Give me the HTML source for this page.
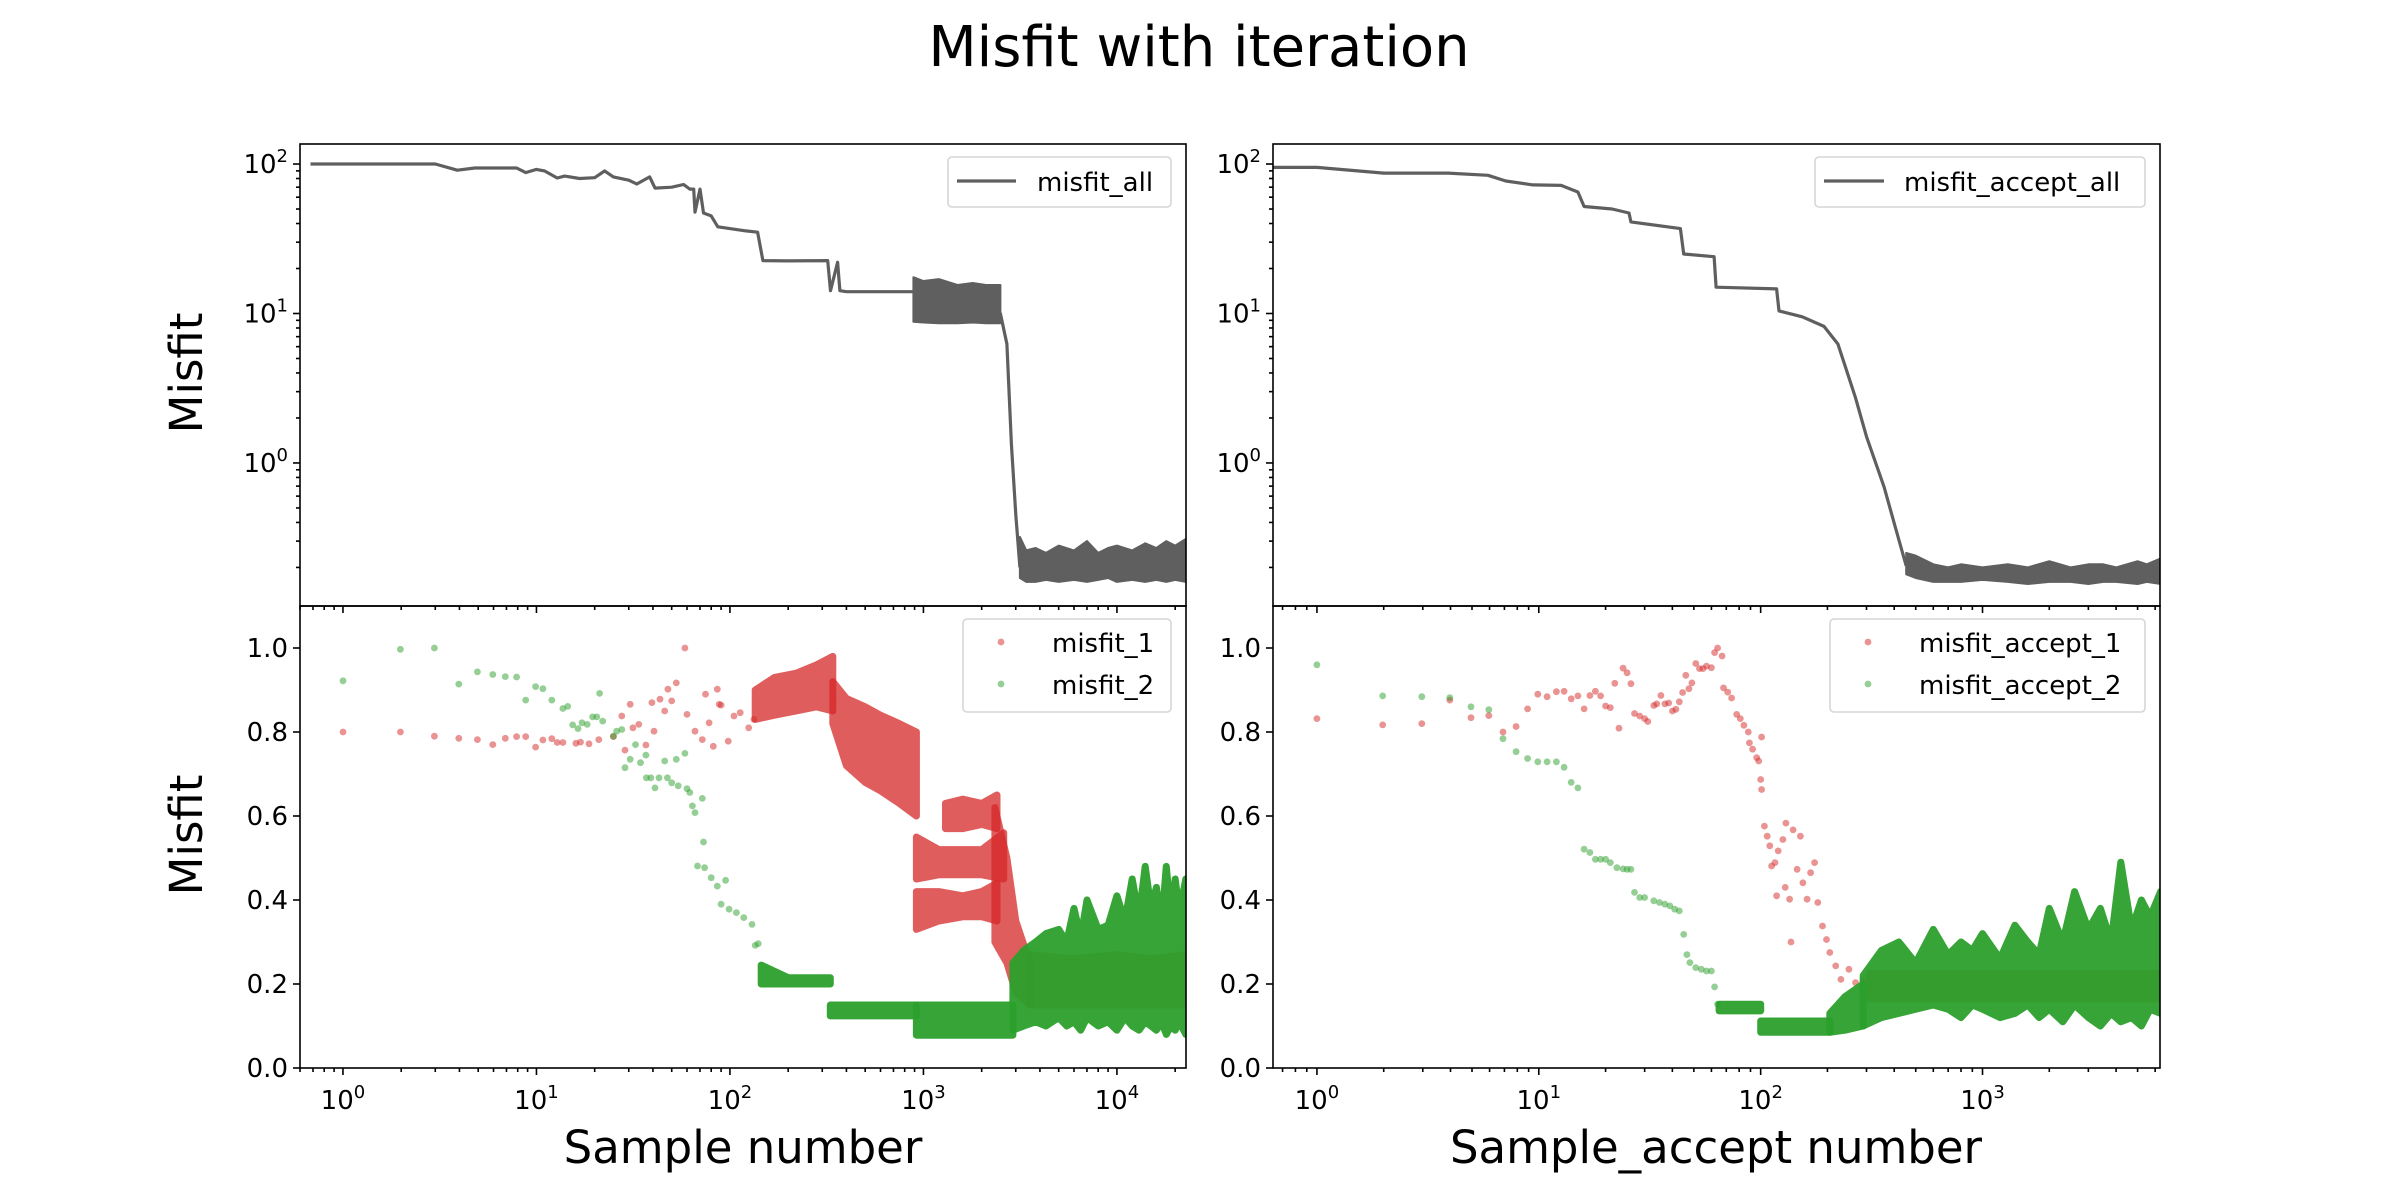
<!DOCTYPE html>
<html><head><meta charset="utf-8"><title>Misfit with iteration</title>
<style>
html,body{margin:0;padding:0;background:#fff;}
svg{display:block;font-family:"DejaVu Sans","Liberation Sans",sans-serif;}
</style></head>
<body>
<svg id="fig" width="2400" height="1200" viewBox="0 0 2400 1200" xmlns="http://www.w3.org/2000/svg">
<rect width="2400" height="1200" fill="#fff"/>
<text x="1199" y="66" text-anchor="middle" font-size="56" fill="#000">Misfit with iteration</text>
<text transform="translate(202,373) rotate(-90)" text-anchor="middle" font-size="45">Misfit</text>
<text transform="translate(202,835) rotate(-90)" text-anchor="middle" font-size="45">Misfit</text>
<text x="743" y="1163" text-anchor="middle" font-size="45">Sample number</text>
<text x="1716" y="1163" text-anchor="middle" font-size="45">Sample_accept number</text>
<g id="layer"></g>
</svg>
<script>
// ---------- data: top-left (misfit_all) ----------
const tlX = [0.68,1,2,3,3.9,4.8,7.9,8.8,10,11,12.8,14,16.7,20,22.5,25,30,33,38.5,41,50,57.6,62,65,66,70,73,80,86.6,121,139,148,200,320,331,360,370,400,888,2500,2700,2850,3000,3150];
const tlY = [100,100,100,100,91,94,94,87.6,92,90,80.6,83,80,81,90,82,78,73.5,82,69,70,73,68,68,47.6,68,47,45,38,35.7,35,22.6,22.5,22.6,14.2,22,14.2,14,14,10,6.25,1.34,0.45,0.2];
const tlBand1X = [888,1000,1200,1500,1800,2100,2500];
const tlBand1Lo = [8.8,8.7,8.6,8.6,8.7,8.6,8.6];
const tlBand1Hi = [17.5,16.5,17,15.5,16,15.5,15.5];
const tlBand2X = [3150,3400,3800,4300,5000,6000,7000,8000,9000,10000,12000,14000,16000,18000,20000,22700];
const tlBand2Lo = [0.17,0.16,0.16,0.165,0.16,0.165,0.16,0.165,0.17,0.16,0.165,0.16,0.165,0.16,0.165,0.16];
const tlBand2Hi = [0.32,0.26,0.27,0.25,0.28,0.26,0.3,0.25,0.27,0.28,0.26,0.29,0.27,0.3,0.28,0.31];
// ---------- data: top-right (misfit_accept_all) ----------
const trX = [0.63,1,2,3.9,5.9,7.1,9.4,12.6,15,16,21.4,25.5,26,43.5,45,61.7,63,118,121,154,193,223,267,300,360,405,453];
const trY = [95,95,87,87,84,77,72.5,72,65,52,50,47,41,37,25,24,15,14.6,10.4,9.5,8.2,6.25,2.76,1.5,0.69,0.37,0.205];
const trBandX = [453,500,600,700,800,1000,1300,1600,2000,2500,3000,3500,4000,5000,5500,6350];
const trBandLo = [0.18,0.17,0.16,0.16,0.16,0.165,0.16,0.155,0.16,0.16,0.155,0.16,0.16,0.155,0.16,0.155];
const trBandHi = [0.25,0.24,0.21,0.2,0.21,0.2,0.21,0.2,0.22,0.2,0.21,0.21,0.2,0.22,0.21,0.23];
// ---------- data: bottom-left scatter ----------
const blRedX = [1,1.98,2.97,3.97,4.95,5.95,6.9,7.9,8.8,9.9,10.8,12,12.8,13.7,16,16.9,18.7,21,25,27.6,28.7,30.5,31.5,33.8,36.8,39.5,40.5,43.5,46,47.8,50,52.8,58.5,60,66,72,74.8,78,82,86,88,90,98,105,113,125,133];
const blRedY = [0.8,0.8,0.79,0.785,0.782,0.77,0.785,0.789,0.789,0.764,0.781,0.784,0.775,0.775,0.773,0.776,0.772,0.782,0.789,0.838,0.757,0.866,0.81,0.818,0.769,0.87,0.802,0.878,0.85,0.902,0.874,0.917,1.0,0.842,0.802,0.782,0.89,0.822,0.766,0.902,0.866,0.864,0.778,0.838,0.846,0.81,0.83];
const blGreenX = [1,1.98,2.97,3.97,4.95,5.95,6.9,7.9,8.8,9.9,10.8,12,13.7,14.5,15.4,16.4,17.2,18.3,19.5,20.5,21.2,22,25,26,27.6,28.7,30.5,32.5,34.5,36.8,37,39,41,43,46,47.5,50,52.8,54,58.5,60,62,64,66,72,73,68,74,80,86,95,90,99,108,118,130,135,140];
const blGreenY = [0.922,0.997,1.0,0.914,0.943,0.937,0.932,0.931,0.876,0.908,0.903,0.876,0.856,0.861,0.817,0.808,0.822,0.818,0.836,0.836,0.892,0.826,0.79,0.802,0.806,0.715,0.735,0.77,0.727,0.745,0.691,0.691,0.667,0.691,0.731,0.691,0.679,0.735,0.672,0.749,0.665,0.656,0.624,0.608,0.642,0.538,0.481,0.477,0.453,0.433,0.447,0.39,0.378,0.37,0.358,0.342,0.292,0.296];
const blRedBands = [
  {x:[135,170,220,280,340], lo:[0.83,0.84,0.85,0.86,0.85], hi:[0.9,0.93,0.94,0.96,0.98]},
  {x:[340,400,500,600,750,920], lo:[0.82,0.72,0.68,0.66,0.63,0.6], hi:[0.92,0.88,0.86,0.84,0.82,0.8]},
  {x:[1300,1600,2000,2400], lo:[0.57,0.57,0.58,0.57], hi:[0.63,0.64,0.63,0.65]},
  {x:[920,1200,1600,2000,2600], lo:[0.45,0.46,0.46,0.46,0.45], hi:[0.55,0.52,0.52,0.52,0.56]},
  {x:[920,1200,1600,2000,2400], lo:[0.33,0.35,0.36,0.36,0.35], hi:[0.42,0.42,0.41,0.42,0.44]},
  {x:[2340,2700,3000,3550], lo:[0.3,0.25,0.18,0.15], hi:[0.62,0.5,0.35,0.25]},
  {x:[3550,6000,10000,15000,22700], lo:[0.15,0.15,0.15,0.15,0.15], hi:[0.27,0.26,0.27,0.26,0.27]}
];
const blGreenBands = [
  {x:[145,200,330], lo:[0.2,0.2,0.2], hi:[0.245,0.215,0.215]},
  {x:[330,920], lo:[0.124,0.124], hi:[0.15,0.15]},
  {x:[920,2900], lo:[0.078,0.078], hi:[0.15,0.15]},
  {x:[2900,3300,3800,4300,5000,5500,6000,6500,7000,8000,9000,10000,11000,12000,13000,14000,15000,16000,17000,18000,19000,20000,21000,22700],
   lo:[0.09,0.1,0.11,0.1,0.12,0.1,0.11,0.09,0.12,0.1,0.11,0.09,0.12,0.1,0.09,0.11,0.1,0.09,0.11,0.08,0.1,0.09,0.11,0.08],
   hi:[0.25,0.28,0.3,0.32,0.33,0.3,0.38,0.31,0.4,0.33,0.34,0.41,0.35,0.45,0.36,0.48,0.38,0.43,0.34,0.48,0.36,0.45,0.37,0.45]}
];
// ---------- data: bottom-right scatter ----------
const brRedX = [1,1.98,2.97,3.97,4.95,5.95,6.9,7.9,8.9,9.9,10.9,12,13,14,15,16,17,18,19,20,21,22,23,24,25,26,27,28.5,30,31,33,34,35.5,37,38.5,40,41.5,43,44.5,46,47.5,49,51,53,55,57,60,62,64,67,68,71,74,78,81,84,88,89,92,96,98,100,101,101,104,107,110,112,116,120,126,130,118,129,135,140,146,151,155,162,168,175,181,137,190,198,205,218,230,250,268,290,310];
const brRedY = [0.832,0.817,0.82,0.876,0.834,0.839,0.8,0.813,0.855,0.89,0.884,0.896,0.897,0.879,0.886,0.855,0.887,0.897,0.886,0.862,0.858,0.916,0.809,0.952,0.941,0.915,0.844,0.838,0.832,0.825,0.863,0.867,0.887,0.867,0.869,0.85,0.854,0.872,0.894,0.935,0.903,0.917,0.963,0.951,0.951,0.957,0.953,0.989,1.0,0.981,0.905,0.895,0.881,0.842,0.832,0.816,0.8,0.774,0.759,0.739,0.731,0.687,0.663,0.788,0.576,0.552,0.529,0.481,0.489,0.517,0.544,0.583,0.41,0.43,0.402,0.567,0.473,0.552,0.441,0.402,0.465,0.489,0.394,0.3,0.338,0.306,0.275,0.243,0.211,0.235,0.203,0.21,0.187];
const brGreenX = [1,1.98,2.97,3.97,4.95,5.95,6.9,7.9,8.9,9.9,10.9,12,13,14,15,16,17,18,19,20,21,22.5,24,25,26,27,28.5,30,33,35,37,39,41,43,45,46.5,48,51,54,57,60,62,64];
const brGreenY = [0.96,0.886,0.884,0.882,0.86,0.853,0.784,0.753,0.737,0.729,0.729,0.729,0.716,0.68,0.667,0.521,0.513,0.497,0.497,0.497,0.489,0.477,0.474,0.473,0.473,0.418,0.406,0.406,0.398,0.394,0.39,0.386,0.378,0.374,0.318,0.27,0.251,0.239,0.235,0.231,0.231,0.193,0.152];
const brRedBands = [
  {x:[310,600,1000,2000,4000,6350], lo:[0.165,0.165,0.165,0.165,0.165,0.165], hi:[0.225,0.225,0.225,0.225,0.225,0.225]}
];
const brGreenBands = [
  {x:[65,100], lo:[0.136,0.136], hi:[0.152,0.152]},
  {x:[100,205], lo:[0.085,0.085], hi:[0.112,0.112]},
  {x:[205,240,290], lo:[0.085,0.09,0.1], hi:[0.13,0.17,0.2]},
  {x:[290,350,420,500,600,700,800,900,1000,1200,1400,1600,1800,2000,2300,2600,3000,3400,3800,4200,4700,5200,5700,6350],
   lo:[0.1,0.12,0.13,0.14,0.15,0.14,0.12,0.15,0.14,0.12,0.13,0.15,0.12,0.14,0.11,0.15,0.12,0.1,0.13,0.11,0.12,0.1,0.14,0.13],
   hi:[0.22,0.28,0.3,0.25,0.33,0.27,0.3,0.28,0.32,0.26,0.34,0.3,0.27,0.38,0.3,0.42,0.33,0.38,0.3,0.49,0.33,0.4,0.36,0.42]}
];
const logTickExps = [0,1,2,3,4];
const linTicks = [0.0,0.2,0.4,0.6,0.8,1.0];
const logYTickExps = [0,1,2];

// ---------- rendering ----------
const NS = 'http://www.w3.org/2000/svg';
const layer = document.getElementById('layer');
function mk(tag, attrs, parent){
  const e = document.createElementNS(NS, tag);
  for (const k in attrs) e.setAttribute(k, attrs[k]);
  (parent||layer).appendChild(e);
  return e;
}
const LEFT = {x0:300, x1:1186, lmin:-0.222, lmax:4.357};
const RIGHT = {x0:1273, x1:2160, lmin:-0.198, lmax:3.80};
const TOP = {y0:144, y1:606, log:true, min:-0.957, max:2.134};
const BOT = {y0:606, y1:1068, log:false, min:0, max:1.1};
function sx(p, v){ return p.x0 + (Math.log10(v)-p.lmin)/(p.lmax-p.lmin)*(p.x1-p.x0); }
function sy(r, v){
  const t = r.log ? (Math.log10(v)-r.min)/(r.max-r.min) : (v-r.min)/(r.max-r.min);
  return r.y1 - t*(r.y1-r.y0);
}
const GRAY = '#5f5f5f', RED = '#d62728', GREEN = '#2ca02c';
const TF = 26;

function clipFor(id, p, r){
  const cp = mk('clipPath', {id:id});
  mk('rect', {x:p.x0, y:r.y0, width:p.x1-p.x0, height:r.y1-r.y0}, cp);
  return 'url(#'+id+')';
}
function drawLine(g, p, r, xs, ys, name){
  let d = '';
  for (let i=0;i<xs.length;i++) d += (i?'L':'M') + sx(p,xs[i]).toFixed(1) + ',' + sy(r,ys[i]).toFixed(1);
  const e = mk('path', {d:d, fill:'none', stroke:GRAY, 'stroke-width':3.2, 'stroke-linejoin':'round'}, g);
  
  
}
function drawBand(g, p, r, xs, lo, hi, color, name, sw, op){
  let d = '';
  for (let i=0;i<xs.length;i++) d += (i?'L':'M') + sx(p,xs[i]).toFixed(1) + ',' + sy(r,hi[i]).toFixed(1);
  for (let i=xs.length-1;i>=0;i--) d += 'L' + sx(p,xs[i]).toFixed(1) + ',' + sy(r,lo[i]).toFixed(1);
  d += 'Z';
  const e = mk('path', {d:d, fill:color, stroke:color, 'stroke-width':sw, 'stroke-linejoin':'round', opacity:op}, g);
  
  
}
function drawDots(g, p, r, xs, ys, color, name){
  for (let i=0;i<xs.length;i++){
    const c = mk('circle', {cx:sx(p,xs[i]).toFixed(1), cy:sy(r,ys[i]).toFixed(1), r:3.4, fill:color, 'fill-opacity':0.5}, g);
    
    
  }
}
function powLabel(x, y, exp, anchor, name){
  const t = mk('text', {x:x, y:y, 'font-size':TF, 'text-anchor':anchor});
  
  
  const a = document.createElementNS(NS,'tspan'); a.textContent='10'; t.appendChild(a);
  const b = document.createElementNS(NS,'tspan'); b.setAttribute('font-size','18'); b.setAttribute('dy','-11'); b.textContent=String(exp); t.appendChild(b);
  return t;
}
function xAxis(p, r, withLabels, prefix){
  const lo = Math.floor(p.lmin), hi = Math.ceil(p.lmax);
  for (let k=lo;k<=hi;k++){
    for (let m=1;m<10;m++){
      const v = m*Math.pow(10,k), lv = Math.log10(v);
      if (lv < p.lmin || lv > p.lmax) continue;
      const x = sx(p, v);
      const len = m===1 ? 7 : 4;
      mk('line', {x1:x, x2:x, y1:r.y1, y2:r.y1+len, stroke:'#000', 'stroke-width':1.6});
    }
  }
  if (withLabels){
    for (const e of logTickExps){
      if (e < p.lmin || e > p.lmax) continue;
      powLabel(sx(p, Math.pow(10,e)), 1109, e, 'middle', prefix+'-x-tick-label');
    }
  }
}
function yAxisLog(p, r, withLabels, prefix){
  for (let k=-1;k<=2;k++){
    for (let m=1;m<10;m++){
      const v = m*Math.pow(10,k), lv = Math.log10(v);
      if (lv < r.min || lv > r.max) continue;
      const y = sy(r, v);
      const len = m===1 ? 7 : 4;
      mk('line', {x1:p.x0-len, x2:p.x0, y1:y, y2:y, stroke:'#000', 'stroke-width':1.6});
    }
  }
  for (const e of logYTickExps){
    powLabel(p.x0-12, sy(r,Math.pow(10,e))+9, e, 'end', prefix+'-y-tick-label');
  }
}
function yAxisLin(p, r, prefix){
  for (const v of linTicks){
    const y = sy(r, v);
    mk('line', {x1:p.x0-7, x2:p.x0, y1:y, y2:y, stroke:'#000', 'stroke-width':1.6});
    const t = mk('text', {x:p.x0-12, y:y+9, 'font-size':TF, 'text-anchor':'end'});
    t.textContent = v.toFixed(1);
    
    
  }
}
function frame(p, r, name){
  const e = mk('rect', {x:p.x0, y:r.y0, width:p.x1-p.x0, height:r.y1-r.y0, fill:'none', stroke:'#000', 'stroke-width':1.6});
  
  
}
function legendBox(x0, y0, x1, y1, name){
  const g = mk('g', {});
  
  
  mk('rect', {x:x0, y:y0, width:x1-x0, height:y1-y0, rx:4, fill:'#fff', 'fill-opacity':0.8, stroke:'#d6d6d6', 'stroke-width':1.6}, g);
  return g;
}
function legendText(g, x, y, s, name){
  const t = mk('text', {x:x, y:y, 'font-size':TF}, g);
  t.textContent = s;
  
  
}

// top-left
let g = mk('g', {'clip-path':clipFor('c1',LEFT,TOP)});
 
drawBand(g, LEFT, TOP, tlBand1X, tlBand1Lo, tlBand1Hi, GRAY, 'misfit-all-noise-band', 2, 1);
drawBand(g, LEFT, TOP, tlBand2X, tlBand2Lo, tlBand2Hi, GRAY, 'misfit-all-noise-band', 2, 1);
drawLine(g, LEFT, TOP, tlX, tlY, 'misfit-all-line');
// top-right
g = mk('g', {'clip-path':clipFor('c2',RIGHT,TOP)});
 
drawBand(g, RIGHT, TOP, trBandX, trBandLo, trBandHi, GRAY, 'misfit-accept-all-noise-band', 2, 1);
drawLine(g, RIGHT, TOP, trX, trY, 'misfit-accept-all-line');
// bottom-left
g = mk('g', {'clip-path':clipFor('c3',LEFT,BOT)});
 
drawDots(g, LEFT, BOT, blRedX, blRedY, RED, 'misfit-1-point');
for (const b of blRedBands) drawBand(g, LEFT, BOT, b.x, b.lo, b.hi, RED, 'misfit-1-cloud', 7, 0.75);
drawDots(g, LEFT, BOT, blGreenX, blGreenY, GREEN, 'misfit-2-point');
for (const b of blGreenBands) drawBand(g, LEFT, BOT, b.x, b.lo, b.hi, GREEN, 'misfit-2-cloud', 7, 0.95);
// bottom-right
g = mk('g', {'clip-path':clipFor('c4',RIGHT,BOT)});
 
drawDots(g, RIGHT, BOT, brRedX, brRedY, RED, 'misfit-accept-1-point');
for (const b of brRedBands) drawBand(g, RIGHT, BOT, b.x, b.lo, b.hi, RED, 'misfit-accept-1-cloud', 7, 0.75);
drawDots(g, RIGHT, BOT, brGreenX, brGreenY, GREEN, 'misfit-accept-2-point');
for (const b of brGreenBands) drawBand(g, RIGHT, BOT, b.x, b.lo, b.hi, GREEN, 'misfit-accept-2-cloud', 7, 0.95);

// axes
xAxis(LEFT, TOP, false, 'top-left');
xAxis(RIGHT, TOP, false, 'top-right');
xAxis(LEFT, BOT, true, 'bottom-left');
xAxis(RIGHT, BOT, true, 'bottom-right');
yAxisLog(LEFT, TOP, true, 'top-left');
yAxisLog(RIGHT, TOP, true, 'top-right');
yAxisLin(LEFT, BOT, 'bottom-left');
yAxisLin(RIGHT, BOT, 'bottom-right');
frame(LEFT, TOP, 'top-left-frame');
frame(RIGHT, TOP, 'top-right-frame');
frame(LEFT, BOT, 'bottom-left-frame');
frame(RIGHT, BOT, 'bottom-right-frame');

// legends
let lg = legendBox(948, 157, 1171, 207, 'legend-misfit-all');
mk('line', {x1:957, x2:1016, y1:181, y2:181, stroke:GRAY, 'stroke-width':3.2}, lg);
legendText(lg, 1037, 191, 'misfit_all', 'legend-label');
lg = legendBox(1815, 157, 2145, 207, 'legend-misfit-accept-all');
mk('line', {x1:1824, x2:1884, y1:181, y2:181, stroke:GRAY, 'stroke-width':3.2}, lg);
legendText(lg, 1904, 191, 'misfit_accept_all', 'legend-label');
lg = legendBox(963, 619, 1171, 712, 'legend-misfit-1-2');
mk('circle', {cx:1001, cy:642, r:3.4, fill:RED, 'fill-opacity':0.5}, lg);
mk('circle', {cx:1001, cy:684, r:3.4, fill:GREEN, 'fill-opacity':0.5}, lg);
legendText(lg, 1052, 652, 'misfit_1', 'legend-label');
legendText(lg, 1052, 694, 'misfit_2', 'legend-label');
lg = legendBox(1830, 619, 2145, 712, 'legend-misfit-accept-1-2');
mk('circle', {cx:1868, cy:642, r:3.4, fill:RED, 'fill-opacity':0.5}, lg);
mk('circle', {cx:1868, cy:684, r:3.4, fill:GREEN, 'fill-opacity':0.5}, lg);
legendText(lg, 1919, 652, 'misfit_accept_1', 'legend-label');
legendText(lg, 1919, 694, 'misfit_accept_2', 'legend-label');
</script>
</body></html>
